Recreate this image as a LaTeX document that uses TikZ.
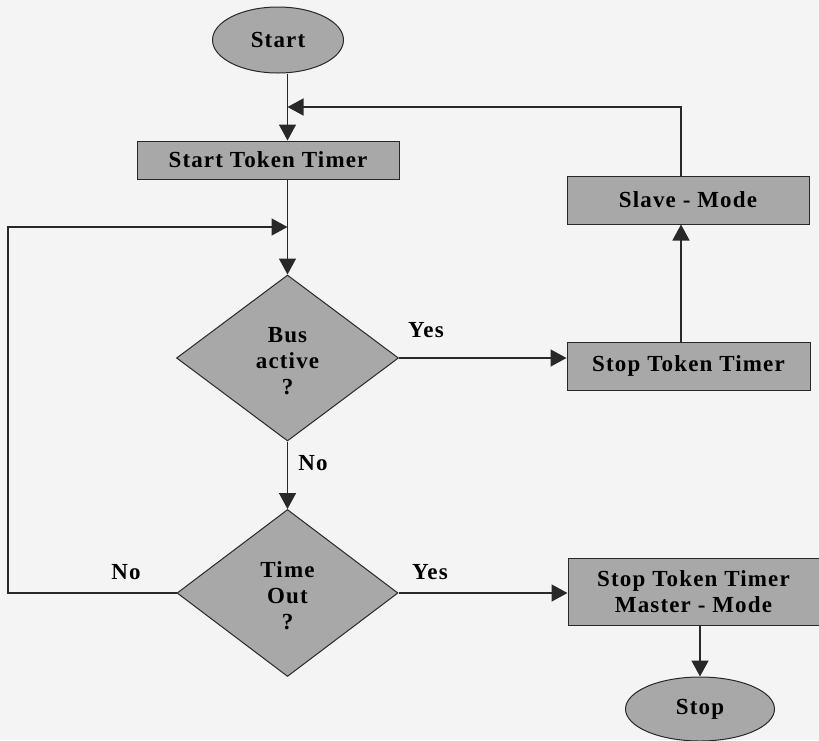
\documentclass[tikz,border=0pt]{standalone}
\usepackage{fontspec}
\setmainfont{Liberation Serif}[LetterSpace=5]
\usetikzlibrary{shapes.geometric,arrows.meta,calc}

\definecolor{paper}{RGB}{244,244,244}
\definecolor{boxgray}{RGB}{168,168,168}
\definecolor{ink}{RGB}{40,40,40}

\tikzset{
  flow/.style={draw=ink, line width=1pt, fill=boxgray, inner sep=0pt,
    font=\bfseries\fontsize{23}{26}\selectfont, text=black},
  procbox/.style={flow, rectangle, align=center},
  terminal/.style={flow, ellipse},
  decision/.style={flow, diamond, align=center},
  conn/.style={draw=ink, line width=1.5pt},
  arr/.style={conn, -{Triangle[width=17pt,length=16pt]}},
  lbl/.style={font=\bfseries\fontsize{23}{26}\selectfont, text=black, inner sep=0pt}
}

% three-line question text, set a little below the diamond's centre
\newcommand{\qlines}[3]{\begin{tabular}{@{}c@{}}\rule{0pt}{28pt}#1\\#2\\#3\end{tabular}}

\begin{document}
\begin{tikzpicture}[x=1pt,y=-1pt]
  \fill[paper] (0,0) rectangle (819,740);
  \useasboundingbox (0,0) rectangle (819,740);

  % routing columns and junctions
  \coordinate (spine) at (287.5,0);
  \coordinate (rcol) at (681,0);
  \coordinate (leftrail) at (8,0);
  \coordinate (topjoin) at (287.5,107);
  \coordinate (leftjoin) at (287.5,227);

  % nodes
  \node[terminal, minimum width=131pt, minimum height=66pt] (start) at (278,40) {Start};
  \node[procbox, minimum width=262pt, minimum height=38pt] (timer) at (268,160) {Start Token Timer};
  \node[decision, minimum width=222pt, minimum height=166pt] (bus) at (287.5,358) {\qlines{Bus}{active}{?}};
  \node[decision, minimum width=221pt, minimum height=167pt] (timeout) at (287.5,593) {\qlines{Time}{Out}{?}};
  \node[procbox, minimum width=243pt, minimum height=48pt] (sttimer) at (688.5,366) {Stop Token Timer};
  \node[procbox, minimum width=242pt, minimum height=48pt] (slave) at (688,200) {Slave - Mode};
  \node[procbox, minimum width=251pt, minimum height=67pt] (master) at (693.5,591.5) {Stop Token Timer\\Master - Mode};
  \node[terminal, minimum width=149pt, minimum height=64pt] (stop) at (700,709) {Stop};

  % branch labels
  \node[lbl] (yesbus) at (426,330) {Yes};
  \node[lbl] (nobus) at (313,463) {No};
  \node[lbl] (notime) at (126,572) {No};
  \node[lbl] (yestime) at (430,572) {Yes};

  % connectors
  \draw[arr] (start.south -| spine) -- (timer.north -| spine);
  \draw[arr] (timer.south -| spine) -- (bus.north);
  \draw[arr] (bus.south) -- (timeout.north);
  \draw[arr] (bus.east) -- (bus.east -| sttimer.west);
  \draw[arr] (sttimer.north -| rcol) -- (slave.south -| rcol);
  \draw[arr] (slave.north -| rcol) |- (topjoin);
  \draw[arr] (timeout.west) -- (timeout.west -| leftrail) |- (leftjoin);
  \draw[arr] (timeout.east) -- (timeout.east -| master.west);
  \draw[arr] (stop.north |- master.south) -- (stop.north);
\end{tikzpicture}
\end{document}
